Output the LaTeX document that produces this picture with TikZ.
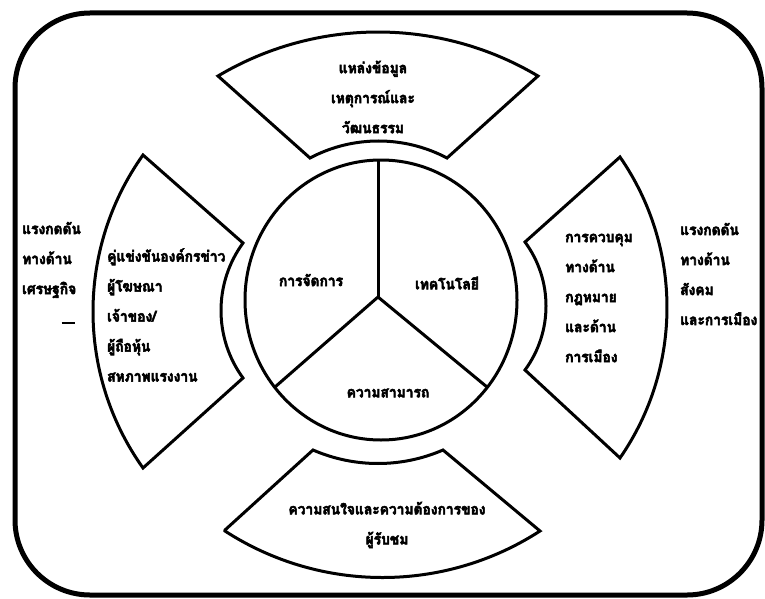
\documentclass[tikz,border=0pt]{standalone}
\usepackage{fontspec}
\newfontfamily\thai[Script=Thai, FakeStretch=0.92, BoldFeatures={FakeBold=3.5}]{Loma}
\begin{document}
\begin{tikzpicture}[x=1pt,y=1pt,
  fan/.style={draw, line width=3pt, line join=miter},
  lbl/.style={font=\thai\bfseries\fontsize{15}{30}\selectfont, inner sep=0pt},
]
\useasboundingbox (0,0) rectangle (765,-599);
% outer frame
\draw[line width=5pt, rounded corners=75pt] (15,-13) rectangle (762,-595);

% four fan shapes
\draw[fan] (218,-76) arc[start angle=120.75, end angle=59.25, radius=312.9pt]
  -- (447,-158) arc[start angle=62.12, end angle=117.88, radius=146.5pt] -- cycle;
\draw[fan] (143,-155) arc[start angle=144.56, end angle=215.44, radius=269.9pt]
  -- (243,-378) arc[start angle=216.1, end angle=143.9, radius=114.55pt] -- cycle;
\draw[fan] (620,-157) arc[start angle=34.68, end angle=-34.68, radius=264.5pt]
  -- (525,-370) arc[start angle=-36.34, end angle=36.34, radius=108pt] -- cycle;
\draw[fan] (225,-530) -- (313,-450) arc[start angle=246.53, end angle=293.47, radius=163.2pt]
  -- (540,-531) arc[start angle=302.9, end angle=237.1, radius=290pt] -- cycle;

% central circle divided in three
\draw[line width=3pt] (381,-300) ellipse [x radius=136, y radius=140];
\coordinate (hub) at (378,-297);
\coordinate (ctop) at (378,-160);
\coordinate (cbl) at (275,-387);
\coordinate (cbr) at (487,-387);
\draw[line width=3pt] (hub) -- (ctop);
\draw[line width=3pt] (hub) -- (cbl);
\draw[line width=3pt] (hub) -- (cbr);

% texts
\node[lbl, align=center] (srcs) at (373,-97) {แหล่งข้อมูล\\เหตุการณ์และ\\วัฒนธรรม};
\node[lbl, align=left, anchor=west] (comp) at (107,-315) {คู่แข่งขันองค์กรข่าว\\ผู้โฆษณา\\เจ้าของ/\\ผู้ถือหุ้น\\สหภาพแรงงาน};
\node[lbl, align=left, anchor=west] (legal) at (565,-298) {การควบคุม\\ทางด้าน\\กฎหมาย\\และด้าน\\การเมือง};
\node[lbl, align=left, anchor=west] (econ) at (22,-260) {แรงกดดัน\\ทางด้าน\\เศรษฐกิจ};
\node[inner sep=0pt] (dash) at (68,-323) {\rule{13pt}{2.5pt}};
\node[lbl, align=left, anchor=west] (soc) at (680,-274) {แรงกดดัน\\ทางด้าน\\สังคม\\และการเมือง};
\node[lbl, align=center] (aud) at (387,-525) {ความสนใจและความต้องการของ\\ผู้รับชม};
\node[lbl] (mgmt) at (311,-280) {การจัดการ};
\node[lbl] (tech) at (447,-283) {เทคโนโลยี};
\node[lbl] (abil) at (388,-393) {ความสามารถ};
\end{tikzpicture}
\end{document}
